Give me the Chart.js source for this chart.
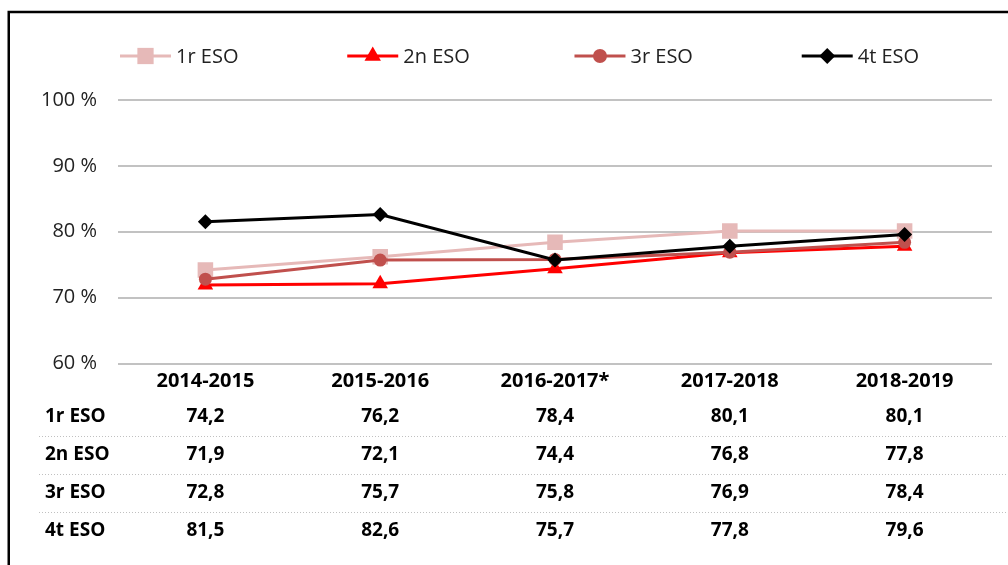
<!DOCTYPE html>
<html>
<head>
<meta charset="utf-8">
<script src="https://cdn.jsdelivr.net/npm/chart.js@4.4.1/dist/chart.umd.min.js"></script>
<style>
  html, body { margin: 0; padding: 0; background: #fff; }
  #wrap { width: 1008px; height: 565px; }
</style>
</head>
<body>
<div id="wrap"><canvas id="chart" width="1008" height="565"></canvas></div>
<script>
const courses = ["2014-2015", "2015-2016", "2016-2017*", "2017-2018", "2018-2019"];
const eso1 = [74.2, 76.2, 78.4, 80.1, 80.1];
const eso2 = [71.9, 72.1, 74.4, 76.8, 77.8];
const eso3 = [72.8, 75.7, 75.8, 76.9, 78.4];
const eso4 = [81.5, 82.6, 75.7, 77.8, 79.6];
const seriesNames = ["1r ESO", "2n ESO", "3r ESO", "4t ESO"];
const yTicks = [60, 70, 80, 90, 100];

const FONT = "'Open Sans', 'DejaVu Sans', sans-serif";

function fmtComma(v) {
  return v.toFixed(1).replace(".", ",");
}

function series(label, data, color, style, radius, order) {
  return {
    label, data, order,
    borderColor: color,
    backgroundColor: color,
    borderWidth: 3,
    pointStyle: style,
    pointRadius: radius,
    pointHoverRadius: radius,
    pointBorderWidth: 0,
    tension: 0,
  };
}

const datasets = [
  series(seriesNames[0], eso1, "#e6b9b8", "rect", 11, 4),
  series(seriesNames[1], eso2, "#ff0000", "triangle", 9, 3),
  series(seriesNames[2], eso3, "#c0504d", "circle", 6.5, 2),
  series(seriesNames[3], eso4, "#000000", "rectRot", 7.5, 1),
];

// legend, data table and outer frame
const extras = {
  id: "extras",
  afterDraw(chart) {
    const ctx = chart.ctx;
    const area = chart.chartArea;
    const xs = chart.scales.x;
    ctx.save();

    // frame
    ctx.strokeStyle = "#000";
    ctx.lineWidth = 2.5;
    ctx.strokeRect(8.75, 12, 1100, 700);

    // legend
    const slot = area.width * 0.26;
    ctx.font = `20px ${FONT}`;
    ctx.textBaseline = "middle";
    ctx.textAlign = "left";
    datasets.forEach((ds, i) => {
      const x0 = area.left + 2 + i * slot;
      const y = 56;
      ctx.strokeStyle = ds.borderColor;
      ctx.lineWidth = ds.borderWidth;
      ctx.beginPath();
      ctx.moveTo(x0, y);
      ctx.lineTo(x0 + 51, y);
      ctx.stroke();
      ctx.fillStyle = ds.backgroundColor;
      Chart.helpers.drawPoint(ctx, { pointStyle: ds.pointStyle, radius: ds.pointRadius + 0.5, borderWidth: 0, rotation: 0 }, x0 + 25.5, y);
      ctx.fillStyle = "#222";
      ctx.fillText(ds.label, x0 + 56, y + 1);
    });

    // data table
    const rowY = [417, 455, 493, 531];
    const sepY = [436, 474, 512];
    ctx.strokeStyle = "#c0c0c0";
    ctx.lineWidth = 1;
    ctx.setLineDash([1, 2]);
    sepY.forEach((y) => {
      ctx.beginPath();
      ctx.moveTo(39, y + 0.5);
      ctx.lineTo(1008, y + 0.5);
      ctx.stroke();
    });
    ctx.setLineDash([]);
    ctx.fillStyle = "#000";
    ctx.font = `bold 19px ${FONT}`;
    datasets.forEach((ds, r) => {
      ctx.textAlign = "left";
      ctx.fillText(ds.label, 45, rowY[r]);
      ctx.textAlign = "center";
      ds.data.forEach((v, i) => {
        ctx.fillText(fmtComma(v), xs.getPixelForValue(i), rowY[r]);
      });
    });
    ctx.restore();
  },
};

new Chart(document.getElementById("chart"), {
  type: "line",
  data: { labels: courses, datasets },
  plugins: [extras],
  options: {
    responsive: false,
    animation: false,
    devicePixelRatio: 1,
    layout: { padding: { top: 100, right: 16, bottom: 0, left: 0 } },
    plugins: { legend: { display: false }, tooltip: { enabled: false }, title: { display: false } },
    scales: {
      x: {
        offset: true,
        grid: { display: false, drawTicks: false },
        border: { display: false },
        ticks: { color: "#000", font: { family: FONT, size: 20, weight: "bold" }, padding: 6, maxRotation: 0 },
        afterFit: (s) => { s.height = 201.5; },
      },
      y: {
        min: 60,
        max: 100,
        afterBuildTicks: (s) => { s.ticks = yTicks.map((v) => ({ value: v })); },
        grid: { color: "#c2c2c2", lineWidth: 2, drawTicks: false },
        border: { display: false },
        ticks: { color: "#222", font: { family: FONT, size: 20 }, padding: 21, callback: (v) => v + " %" },
        afterFit: (s) => { s.width = 118; },
      },
    },
  },
});
</script>
</body>
</html>
